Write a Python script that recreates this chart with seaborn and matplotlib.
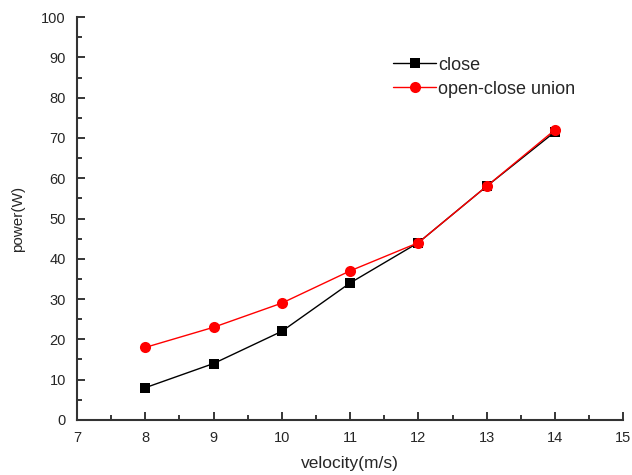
import matplotlib
matplotlib.use('Agg')
import matplotlib.pyplot as plt
from matplotlib.ticker import MultipleLocator
import seaborn as sns

# Data
velocity = [8, 9, 10, 11, 12, 13, 14]
power_close = [8, 14, 22, 34, 44, 58, 71.5]
power_union = [18, 23, 29, 37, 44, 58, 72]

sns.set_style('white')
plt.rcParams['font.family'] = ['Liberation Sans', 'DejaVu Sans']

fig = plt.figure(figsize=(6.32, 4.75), dpi=100)
ax = fig.add_axes([0.122, 0.116, 0.864, 0.848])

sns.lineplot(x=velocity, y=power_close, color='black', marker='s',
             markersize=7, markeredgewidth=0, linewidth=1, label='close', ax=ax)
sns.lineplot(x=velocity, y=power_union, color='red', marker='o',
             markersize=8, markeredgewidth=0, linewidth=1,
             label='open-close union', ax=ax)

ax.set_xlim(7, 15)
ax.set_ylim(0, 100)
ax.xaxis.set_major_locator(MultipleLocator(1))
ax.xaxis.set_minor_locator(MultipleLocator(0.5))
ax.yaxis.set_major_locator(MultipleLocator(10))
ax.yaxis.set_minor_locator(MultipleLocator(5))
ax.tick_params(which='major', direction='in', length=6, width=1.3, labelsize=10.5, pad=8)
ax.tick_params(which='minor', direction='in', length=3.5, width=1.3)
ax.tick_params(axis='y', which='both', left=True)
ax.tick_params(axis='x', which='both', bottom=True)

sns.despine(ax=ax)
for side in ['left', 'bottom']:
    ax.spines[side].set_linewidth(1.5)
    ax.spines[side].set_color('#333333')

ax.set_xlabel('velocity(m/s)', fontsize=12.5, labelpad=8)
ax.set_ylabel('power(W)', fontsize=11, labelpad=12)

ax.legend(frameon=False, loc='upper left', bbox_to_anchor=(0.565, 0.92),
          fontsize=13, handlelength=2.4, handletextpad=0.1, labelspacing=0.4,
          borderaxespad=0)

fig.savefig('out.png', dpi=100)
